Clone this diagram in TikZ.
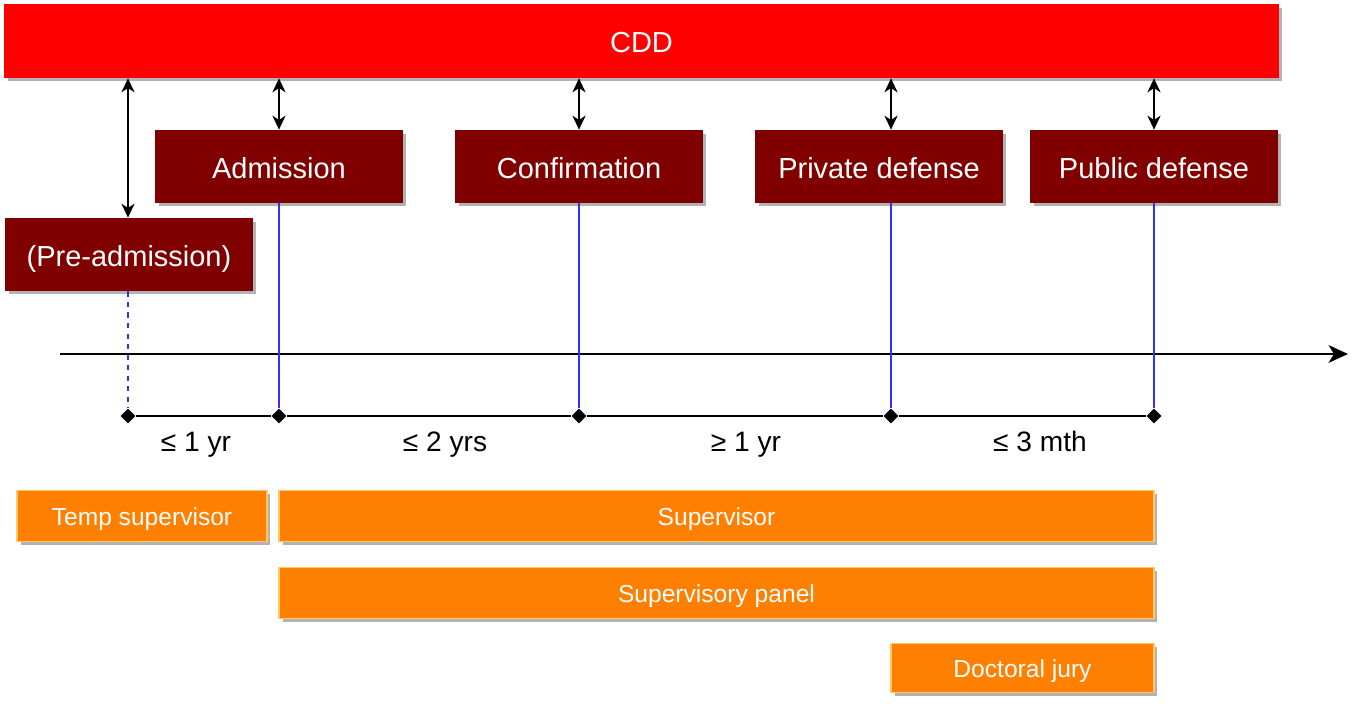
\documentclass[tikz,border=0pt]{standalone}
\usepackage{fontspec}
\setmainfont{Liberation Sans}
\usetikzlibrary{shadows,shapes.geometric,arrows.meta}

\definecolor{cddred}{HTML}{FF0000}
\definecolor{stagered}{HTML}{800000}
\definecolor{roleorange}{HTML}{FF8000}
\definecolor{roleedge}{HTML}{FFC864}
\definecolor{guideblue}{HTML}{3030FF}

\tikzset{
  boxshadow/.style={drop shadow={shadow xshift=0.07cm, shadow yshift=-0.07cm, fill=black, opacity=0.3}},
  stage/.style={fill=stagered, text=white, font=\fontsize{16.5}{19}\selectfont, minimum width=4.96cm, minimum height=1.46cm, inner sep=0pt, text height=13.5pt, text depth=0pt, boxshadow},
  role/.style={fill=roleorange, draw=roleedge, line width=1pt, text=white, font=\fontsize{14}{16}\selectfont, minimum height=1.02cm, inner sep=0pt, text height=11pt, text depth=0pt, boxshadow},
  tick/.style={diamond, fill=black, inner sep=0pt, minimum size=0.3cm},
  duration/.style={font=\fontsize{16}{18}\selectfont},
  link/.style={{Stealth[length=8pt, width=7.5pt, inset=2.5pt]}-{Stealth[length=8pt, width=7.5pt, inset=2.5pt]}, line width=1.1pt},
  guide/.style={guideblue, line width=0.7pt},
}

\begin{document}
\begin{tikzpicture}[x=0.02cm, y=-0.02cm, >=stealth]
\useasboundingbox (0,0) rectangle (1369,710);
% committee on top
\node[fill=cddred, text=white, font=\fontsize{16.5}{19}\selectfont, minimum width=25.5cm, minimum height=1.48cm, inner sep=0pt, text height=13pt, text depth=0pt, boxshadow] (cdd) at (641.5,41) {CDD};
% stages
\node[stage] (pre) at (129,254.5) {(Pre-admission)};
\node[stage] (adm) at (279,166.5) {Admission};
\node[stage] (cnf) at (579,166.5) {Confirmation};
\node[stage] (prv) at (879,166.5) {Private defense};
\node[stage] (pub) at (1154,166.5) {Public defense};
% time axis
\coordinate (tstart) at (60,354);
\coordinate (tend) at (1348,354);
\draw[-{Stealth[length=11pt, width=10pt, inset=3pt]}, line width=1.6pt] (tstart) -- (tend);
% milestones
\node[tick] (t0) at (128,416) {};
\node[tick] (t1) at (279,416) {};
\node[tick] (t2) at (579,416) {};
\node[tick] (t3) at (891,416) {};
\node[tick] (t4) at (1154,416) {};
\draw[line width=1.1pt] (t0) -- (t1) -- (t2) -- (t3) -- (t4);
% links to the committee
\draw[link] (cdd.south -| t0) -- (pre.north -| t0);
\draw[link] (cdd.south -| adm) -- (adm.north);
\draw[link] (cdd.south -| cnf) -- (cnf.north);
\draw[link] (cdd.south -| t3) -- (prv.north -| t3);
\draw[link] (cdd.south -| pub) -- (pub.north);
% guides down to the milestones
\draw[guide, dashed] (pre.south -| t0) -- (t0);
\draw[guide] (adm.south) -- (t1);
\draw[guide] (cnf.south) -- (t2);
\draw[guide] (prv.south -| t3) -- (t3);
\draw[guide] (pub.south) -- (t4);
% durations
\node[duration] (d1) at (196,445) {≤ 1 yr};
\node[duration] (d2) at (445,445) {≤ 2 yrs};
\node[duration] (d3) at (746,445) {≥ 1 yr};
\node[duration] (d4) at (1040,441) {≤ 3 mth};
% supervision roles
\node[role, minimum width=5.0cm] (tmp) at (142,516) {Temp supervisor};
\node[role, minimum width=17.5cm] (sup) at (716.5,516) {Supervisor};
\node[role, minimum width=17.5cm] (pan) at (716.5,593) {Supervisory panel};
\node[role, minimum width=5.26cm, minimum height=0.98cm] (jury) at (1022.5,668) {Doctoral jury};
\end{tikzpicture}
\end{document}
